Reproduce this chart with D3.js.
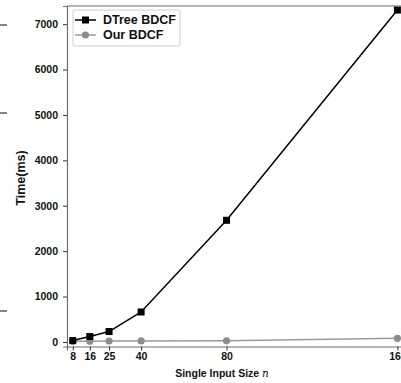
<!DOCTYPE html>
<html><head><meta charset="utf-8">
<script src="https://cdn.jsdelivr.net/npm/d3@7"></script>
<style>
html,body{margin:0;padding:0;background:#fff;overflow:hidden}
svg{display:block;font-family:"Liberation Sans",Arial,sans-serif;font-weight:bold}
</style></head>
<body>
<svg id="c" width="401" height="383"></svg>
<script>
const sizes = [8, 16, 25, 40, 80, 160];
const dtreeBDCF = [30, 120, 230, 660, 2680, 7310];
const ourBDCF = [15, 18, 20, 22, 25, 80];
const xTickLabels = ["8", "16", "25", "40", "80", "160"];
const yTickValues = [0, 1000, 2000, 3000, 4000, 5000, 6000, 7000];
const seriesNames = ["DTree BDCF", "Our BDCF"];
const strayTicks = [25, 113, 311]; // cropped neighbour-axis ticks at the left edge

const svg = d3.select("#c");
const x = d3.scaleLinear().domain([5.3, 165.9]).range([67, 410]);
const y = d3.scaleLinear().domain([-100, 7400]).range([346.5, 6]);
const frame = "#6e6e6e";

// stray ticks
svg.selectAll(".stray").data(strayTicks).enter().append("line")
  .attr("x1", 0).attr("x2", 7).attr("y1", d => d).attr("y2", d => d)
  .attr("stroke", "#333").attr("stroke-width", 1.2);

// top spine
svg.append("line").attr("x1", 67).attr("x2", 420).attr("y1", 6).attr("y2", 6).attr("stroke", frame).attr("stroke-width", 1.2);

// axes
const yAxis = d3.axisLeft(y).tickValues(yTickValues).tickSize(4).tickPadding(5).tickFormat(d3.format("d"));
const gy = svg.append("g").attr("transform", "translate(67,0)").call(yAxis);
gy.select(".domain").attr("stroke", frame).attr("stroke-width", 1.2);
gy.selectAll(".tick line").attr("stroke", "#333");
gy.selectAll("text").attr("font-size", 10.5).attr("font-family", "Liberation Sans, Arial").attr("font-weight", "bold").attr("fill", "#111");

const xAxis = d3.axisBottom(x).tickValues(sizes).tickSize(4).tickPadding(2).tickFormat((d, i) => xTickLabels[i]);
const gx = svg.append("g").attr("transform", "translate(0,346.5)").call(xAxis);
gx.select(".domain").attr("stroke", frame).attr("stroke-width", 1.2);
gx.selectAll(".tick line").attr("stroke", "#333");
gx.selectAll("text").attr("font-size", 10.5).attr("font-family", "Liberation Sans, Arial").attr("font-weight", "bold").attr("fill", "#111");

// lines
const line = d3.line().x((d, i) => x(sizes[i])).y(d => y(d));
svg.append("path").datum(ourBDCF).attr("d", line).attr("fill", "none").attr("stroke", "#9a9a9a").attr("stroke-width", 1.5);
svg.selectAll(".ourpt").data(ourBDCF).enter().append("circle")
  .attr("cx", (d, i) => x(sizes[i])).attr("cy", d => y(d)).attr("r", 3.6).attr("fill", "#8c8c8c");
svg.append("path").datum(dtreeBDCF).attr("d", line).attr("fill", "none").attr("stroke", "#000").attr("stroke-width", 1.5);
svg.selectAll(".dtpt").data(dtreeBDCF).enter().append("rect")
  .attr("x", (d, i) => x(sizes[i]) - 3.5).attr("y", d => y(d) - 3.5).attr("width", 7).attr("height", 7).attr("fill", "#000");

// labels
svg.append("text").attr("transform", "translate(25,178) rotate(-90)").attr("text-anchor", "middle")
  .attr("font-size", 12.5).attr("fill", "#111").text("Time(ms)");
const xl = svg.append("text").attr("x", 222).attr("y", 377).attr("text-anchor", "middle")
  .attr("font-size", 10.5).attr("fill", "#111");
xl.append("tspan").text("Single Input Size ");
xl.append("tspan").attr("font-style", "italic").attr("font-weight", "normal").attr("font-family", "DejaVu Serif, serif").text("n");

// legend
const lg = svg.append("g");
lg.append("rect").attr("x", 73).attr("y", 10).attr("width", 107).attr("height", 36).attr("rx", 2)
  .attr("fill", "#fff").attr("stroke", "#d0d0d0").attr("stroke-width", 1);
const cols = ["#000", "#9a9a9a"];
seriesNames.forEach((name, i) => {
  const cy = 20 + i * 15;
  lg.append("line").attr("x1", 75).attr("x2", 96).attr("y1", cy).attr("y2", cy).attr("stroke", cols[i]).attr("stroke-width", 1.5);
  if (i === 0) lg.append("rect").attr("x", 82).attr("y", cy - 3.5).attr("width", 7).attr("height", 7).attr("fill", "#000");
  else lg.append("circle").attr("cx", 85.5).attr("cy", cy).attr("r", 3.6).attr("fill", "#8c8c8c");
  lg.append("text").attr("x", 103).attr("y", cy + 4.3).attr("font-size", 12.5).attr("fill", "#111").text(name);
});
</script>
</body></html>
